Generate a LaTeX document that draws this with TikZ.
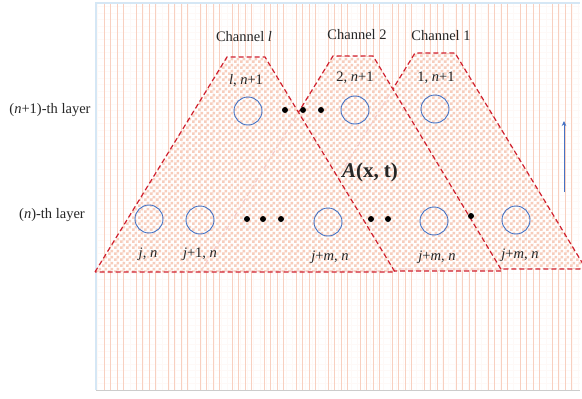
\documentclass[tikz,border=0pt]{standalone}
\usepackage{fontspec}
\setmainfont{Liberation Serif}
\usetikzlibrary{patterns,arrows.meta}
\definecolor{chred}{HTML}{D0202E}
\definecolor{unitblue}{HTML}{4472C4}
\definecolor{salmon}{HTML}{F6C4B0}
\definecolor{paleblue}{HTML}{D5E7F5}
% small checkerboard for the channels
\pgfdeclarepatternformonly{checks}{\pgfpointorigin}{\pgfqpoint{6pt}{6pt}}{\pgfqpoint{6pt}{6pt}}%
{\pgfpathrectangle{\pgfpointorigin}{\pgfqpoint{3pt}{3pt}}%
 \pgfpathrectangle{\pgfqpoint{3pt}{3pt}}{\pgfqpoint{3pt}{3pt}}\pgfusepath{fill}}
\begin{document}
\begin{tikzpicture}[x=1pt,y=-1pt,
  chan/.style={draw=chred,dash pattern=on 5pt off 3pt,line width=1.2pt,
    preaction={fill=white,fill opacity=0.8},
    preaction={pattern=checks,pattern color=salmon!85}},
  unit/.style={circle,draw=unitblue,line width=0.9pt,minimum size=28pt,inner sep=0pt},
  ghost/.style={circle,draw=unitblue!22,line width=0.9pt,minimum size=28pt,inner sep=0pt},
  blob/.style={circle,fill=black,minimum size=6pt,inner sep=0pt},
  lbl/.style={font=\fontsize{14.5}{16}\selectfont,text=black!85,inner sep=1pt}]
\useasboundingbox (0,0) rectangle (582,399);
% background panel
\fill[white] (96,3) rectangle (580,390);
\begin{scope}
  \clip (96,3) rectangle (580,390);
  \draw[salmon!10,line width=0.4pt,step=6.5pt] (96,3) grid (580,390);
  \foreach \x in {104,136,...,568}
    \foreach \d in {0,6.3,13,19.3}
      \draw[salmon!80,line width=0.8pt] (\x+\d,3) -- (\x+\d,390);
\end{scope}
\draw[paleblue,line width=1.5pt] (96,390) -- (96,3) -- (580,3);
\draw[black!20] (96,390) -- (580,390);

% channels, back to front
\path[chan] (282,269) -- (415,53) -- (455,53) -- (586,269) -- cycle;
\node[ghost] (g4) at (388,218) {};
\path[chan] (201,271) -- (333,56) -- (373,56) -- (502,271) -- cycle;
\node[ghost] (g1) at (257,218) {};
\node[ghost] (g2) at (308,217) {};
\node[ghost] (g3) at (335,215) {};
\path[chan] (95,272) -- (227,57) -- (265,57) -- (395,272) -- cycle;

\node[lbl] (chl) at (244,37) {Channel \textit{l}};
\node[lbl] (ch2) at (357,35) {Channel 2};
\node[lbl] (ch1) at (441,36) {Channel 1};
\node[lbl] (top) at (50,110) {(\textit{n}+1)-th layer};
\node[lbl] (bot) at (52,215) {(\textit{n})-th layer};

% (n+1)-th layer
\node[unit] (ul) at (248,111) {};
\node[unit] (u2) at (355,110) {};
\node[unit] (u1) at (435,109) {};
\node[lbl] at (246,81) {\textit{l}, \textit{n}+1};
\node[lbl] at (355,78) {2, \textit{n}+1};
\node[lbl] at (436,78) {1, \textit{n}+1};
\foreach \x in {285,303,321}
  \node[blob] at (\x,110) {};

% (n)-th layer
\node[unit] (j0) at (149,219) {};
\node[unit] (j1) at (200,220) {};
\node[unit] (jl) at (328,222) {};
\node[unit] (j2) at (434,221) {};
\node[unit] (j3) at (516,220) {};
\node[lbl] at (148,254) {\textit{j}, \textit{n}};
\node[lbl] at (200,254) {\textit{j}+1, \textit{n}};
\node[lbl] at (330,257) {\textit{j}+\textit{m}, \textit{n}};
\node[lbl] at (437,257) {\textit{j}+\textit{m}, \textit{n}};
\node[lbl] at (520,255) {\textit{j}+\textit{m}, \textit{n}};
\foreach \x in {247,263,281,371,388}
  \node[blob] at (\x,219) {};
\node[blob] at (471,216) {};

\node[font=\fontsize{21}{23}\selectfont\bfseries,text=black!85] (A) at (370,172) {\textit{A}(x, t)};

\coordinate (arrS) at (564,192);
\coordinate (arrE) at (564,121);
\draw[-{Stealth[length=5pt,width=4.5pt]},unitblue,line width=1pt] (arrS) -- (arrE);
\end{tikzpicture}
\end{document}
